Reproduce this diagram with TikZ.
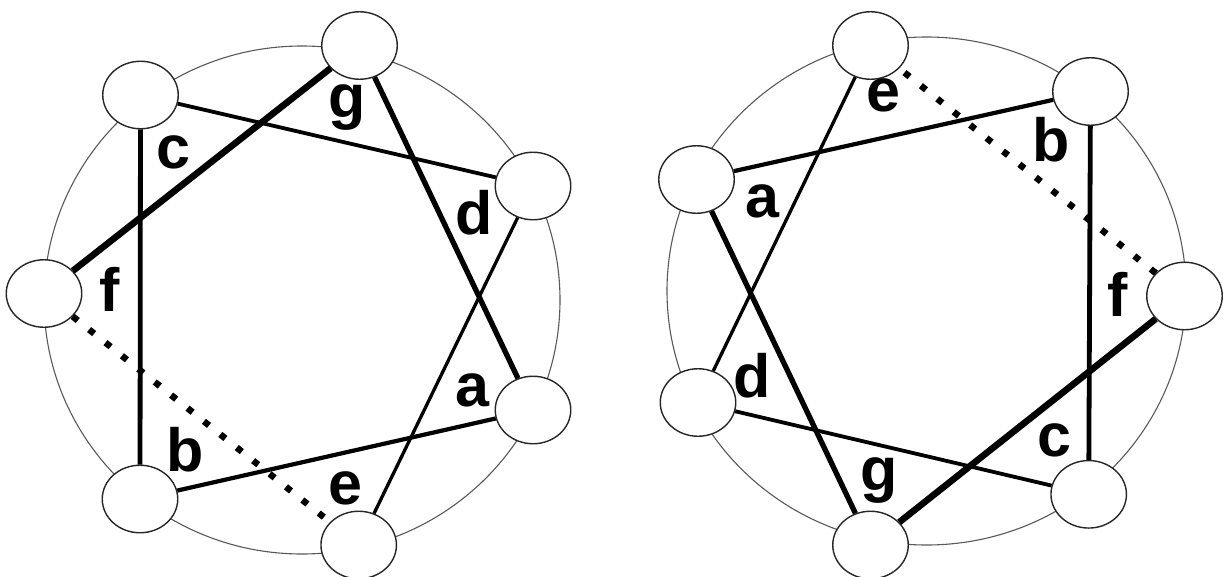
\documentclass[tikz,border=0pt]{standalone}
\usepackage{fontspec}
\setmainfont{Liberation Sans}
\usetikzlibrary{shapes.geometric}
\begin{document}
\begin{tikzpicture}[x=1pt,y=-1pt,
  vtx/.style={ellipse, draw=black!85, line width=1.4pt, fill=white,
    minimum width=75.5pt, minimum height=67.5pt, inner sep=0pt},
  ring/.style={draw=black!65, line width=1.1pt},
  lbl/.style={font=\fontsize{61}{61}\selectfont\bfseries, anchor=base, inner sep=0pt},
  wA/.style={draw=black, line width=6.6pt},
  wB/.style={draw=black, line width=5.3pt},
  wC/.style={draw=black, line width=4.8pt},
  wD/.style={draw=black, line width=4.2pt},
  wE/.style={draw=black, line width=3.8pt},
  wF/.style={draw=black, line width=3.3pt},
  dotline/.style={draw=black, line width=6.5pt, dash pattern=on 6.5pt off 14.5pt}
]
\useasboundingbox (0,0) rectangle (1223,576);
\fill[white] (0,0) rectangle (1223,576);

% ---------- left wheel ----------
\draw[ring] (302,300) ellipse [x radius=258pt, y radius=254pt];
\node[vtx] (lT)  at (359.5,45.5) {};
\node[vtx] (lUL) at (140.5,95) {};
\node[vtx] (lL)  at (44,293.5) {};
\node[vtx] (lBL) at (140,499) {};
\node[vtx] (lB)  at (358.7,545) {};
\node[vtx] (lRL) at (533,410) {};
\node[vtx] (lRU) at (533,186) {};

\draw[wA] (lT) -- (lL);
\draw[wB] (lT) -- (lRL);
\draw[wC] (lUL) -- (lBL);
\draw[wD] (lBL) -- (lRL);
\draw[wE] (lUL) -- (lRU);
\draw[wF] (lRU) -- (lB);
\draw[dotline] (lL) -- (lB);

\node[lbl] (lg) at (347,117) {g};
\node[lbl] (lc) at (173,168) {c};
\node[lbl] (ld) at (474,234) {d};
\node[lbl] (lf) at (110,311) {f};
\node[lbl] (la) at (472,406) {a};
\node[lbl] (lb) at (185,471) {b};
\node[lbl] (le) at (345,504) {e};

% ---------- right wheel ----------
\draw[ring] (926.5,291) ellipse [x radius=259.5pt, y radius=254pt];
\node[vtx] (rT)  at (870.5,45.5) {};
\node[vtx] (rUR) at (1090.5,91.5) {};
\node[vtx] (rR)  at (1184.5,296) {};
\node[vtx] (rLR) at (1088.7,494.3) {};
\node[vtx] (rB)  at (870.5,545) {};
\node[vtx] (rLL) at (698,402.5) {};
\node[vtx] (rL)  at (696.5,179.5) {};

\draw[wA] (rB) -- (rR);
\draw[wB] (rB) -- (rL);
\draw[wC] (rLR) -- (rUR);
\draw[wD] (rUR) -- (rL);
\draw[wE] (rLR) -- (rLL);
\draw[wF] (rLL) -- (rT);
\draw[dotline] (rR) -- (rT);

\node[lbl] (re) at (883,111) {e};
\node[lbl] (rb) at (1051,161) {b};
\node[lbl] (rf) at (1118,316) {f};
\node[lbl] (ra) at (762,217) {a};
\node[lbl] (rd) at (752,397) {d};
\node[lbl] (rc) at (1054,456) {c};
\node[lbl] (rg) at (879,490) {g};
\end{tikzpicture}
\end{document}
